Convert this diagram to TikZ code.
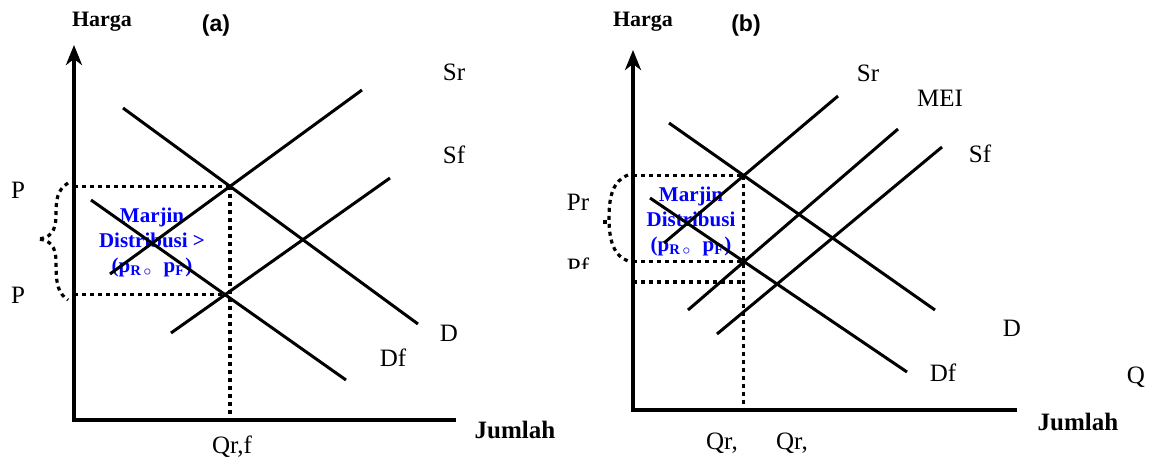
\documentclass[tikz,border=0pt]{standalone}
\usepackage{fontspec}
\setmainfont{Liberation Serif}
\newfontfamily\arialfont{Liberation Sans}
\usetikzlibrary{
    arrows.meta,
    positioning,
    calc
}
\usepackage{xcolor}

\begin{document}
\begin{tikzpicture}[
    x=0.5pt, y=-0.5pt,
    every node/.style={font=\fontsize{12.5}{14}\selectfont, inner sep=0pt},
    sumbu/.style={
        line width=2pt,
        -{Stealth[length=10pt,width=8pt,inset=3pt]}
    },
    dasar/.style={line width=2pt},
    kurva/.style={line width=1.5pt},
    titik/.style={
        line width=1.6pt,
        dash pattern=on 2pt off 2pt
    },
    judul/.style={font=\fontsize{11}{13}\selectfont\bfseries},
    panel/.style={font=\arialfont\fontsize{11.5}{13}\selectfont\bfseries},
    marjin/.style={
        font=\fontsize{10.5}{12.5}\selectfont\bfseries,
        text=blue,
        align=center
    }
]
\useasboundingbox (0,0) rectangle (1151,466);

% ---------- panel (a) ----------
\coordinate (Oa) at (74,420);
\coordinate (Ya) at (74,45);
\coordinate (Xa) at (456,420);

\node[marjin] (marjinA) at (152,242)
    {Marjin\\Distribusi >\\(p\textsubscript{R\,$\circ$}\; p\textsubscript{F})};

\coordinate (aD1) at (123,108);  \coordinate (aD2) at (418,324);
\coordinate (aSr1) at (110,274); \coordinate (aSr2) at (362,90);
\coordinate (aDf1) at (91,200);  \coordinate (aDf2) at (346,380);
\coordinate (aSf1) at (171,333); \coordinate (aSf2) at (390,178);
\coordinate (aEr) at (intersection of aD1--aD2 and aSr1--aSr2);
\coordinate (aEf) at (intersection of aDf1--aDf2 and aSf1--aSf2);

\draw[titik] (aEr -| Oa) -- (aEr);
\draw[titik] (aEf -| Oa) -- (aEf);
\draw[titik] (aEr) -- (aEr |- Oa);

\draw[kurva] (aD1) -- (aD2);
\draw[kurva] (aSr1) -- (aSr2);
\draw[kurva] (aDf1) -- (aDf2);
\draw[kurva] (aSf1) -- (aSf2);

\draw[dasar] ($(Oa)+(-2,0)$) -- (Xa);
\draw[sumbu] (Oa) -- (Ya);

% kurung titik-titik
\draw[titik] (68,183) .. controls (57,190) and (56,200) .. (56,215)
    .. controls (56,232) and (50,238) .. (38,239)
    .. controls (50,240) and (56,246) .. (56,262)
    .. controls (56,285) and (58,293) .. (68,300);

\node[judul] (hargaA) at (102,22) {Harga};
\node[panel] (labelA) at (216,26) {(a)};
\node (pR) at (18,190) {P};
\node (pF) at (18,295) {P};
\node (srA) at (454,72) {Sr};
\node (sfA) at (454,155) {Sf};
\node (dA) at (449,333) {D};
\node (dfA) at (393,358) {Df};
\node (qA) at (232,447) {Qr,f};
\node[font=\fontsize{12.5}{14}\selectfont\bfseries] (jumlahA) at (515,430) {Jumlah};

% ---------- panel (b) ----------
\coordinate (Ob) at (633,410);
\coordinate (Yb) at (633,50);
\coordinate (Xb) at (1017,410);

\node[marjin] (marjinB) at (691,221)
    {Marjin\\Distribusi\\(p\textsubscript{R\,$\circ$}\; p\textsubscript{F})};

\coordinate (bD1) at (669,123);   \coordinate (bD2) at (935,310);
\coordinate (bSr1) at (664,243);  \coordinate (bSr2) at (838,96);
\coordinate (bDf1) at (650,198);  \coordinate (bDf2) at (907,372);
\coordinate (bMEI1) at (688,310); \coordinate (bMEI2) at (898,129);
\coordinate (bSf1) at (717,334);  \coordinate (bSf2) at (942,147);
\coordinate (bEr) at (intersection of bD1--bD2 and bSr1--bSr2);
\coordinate (bEf) at (intersection of bDf1--bDf2 and bMEI1--bMEI2);
\coordinate (bEs) at ($(bEr |- Ob)+(0,-128)$);

\draw[titik] (bEr -| Ob) -- (bEr);
\draw[titik] (bEf -| Ob) -- (bEf);
\draw[titik] (bEs -| Ob) -- (bEs);
\draw[titik] (bEr) -- (bEr |- Ob);

\draw[kurva] (bD1) -- (bD2);
\draw[kurva] (bSr1) -- (bSr2);
\draw[kurva] (bDf1) -- (bDf2);
\draw[kurva] (bMEI1) -- (bMEI2);
\draw[kurva] (bSf1) -- (bSf2);

\draw[dasar] ($(Ob)+(-2,0)$) -- (Xb);
\draw[sumbu] (Ob) -- (Yb);

% kurung titik-titik
\draw[titik] (628,175) .. controls (613,181) and (609,196) .. (609,218)
    .. controls (609,241) and (614,256) .. (628,261);
\draw[titik] (603,222) -- (607,222);

\node[judul] (hargaB) at (643,22) {Harga};
\node[panel] (labelB) at (746,26) {(b)};
\node (prB) at (578,202) {Pr};
\begin{scope}
    \clip (560,250) rectangle (600,268);
    \node (pfB) at (578,267) {Pf};
\end{scope}
\node (srB) at (868,73) {Sr};
\node (meiB) at (940,98) {MEI};
\node (sfB) at (980,154) {Sf};
\node (dB) at (1012,328) {D};
\node (dfB) at (943,373) {Df};
\node (qB) at (1136,377) {Q};
\node (qrB1) at (722,443) {Qr,};
\node (qrB2) at (792,443) {Qr,};
\node[font=\fontsize{12.5}{14}\selectfont\bfseries] (jumlahB) at (1078,422) {Jumlah};

\end{tikzpicture}
\end{document}
